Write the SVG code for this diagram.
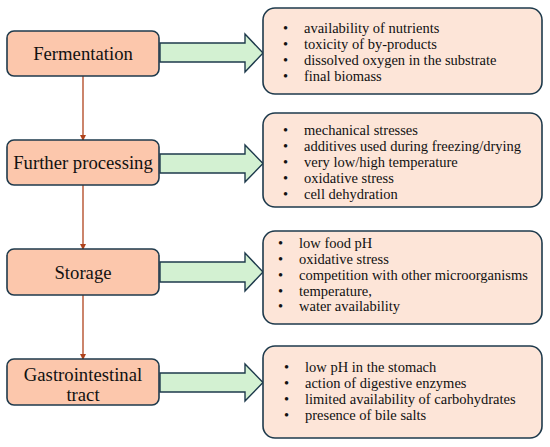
<svg xmlns="http://www.w3.org/2000/svg" width="550" height="447" viewBox="0 0 550 447">
<style>
.stage{fill:#FCC7AC;stroke:#1E3A4C;stroke-width:1.6}
.info{fill:#FDE5D8;stroke:#1E3A4C;stroke-width:1.6}
.garrow{fill:#D3F1D2;stroke:#1E3A4C;stroke-width:1.4;stroke-linejoin:miter}
.conn{stroke:#B0431C;stroke-width:1.3;fill:none}
</style>
<defs>
<marker id="ah" markerWidth="6" markerHeight="6" refX="5" refY="3" orient="auto" markerUnits="userSpaceOnUse">
<path d="M0,0 L6,3 L0,6 Z" fill="#B0431C"/>
</marker>
</defs>
<g id="connectors">
<line class="conn" x1="83" y1="76" x2="83" y2="140" marker-end="url(#ah)"/>
<line class="conn" x1="83" y1="185" x2="83" y2="249" marker-end="url(#ah)"/>
<line class="conn" x1="83" y1="295" x2="83" y2="359" marker-end="url(#ah)"/>
<path class="garrow" d="M160,43 H245 V34 L263,53 L245,72 V62 H160 Z"/>
<path class="garrow" d="M160,154 H245 V145 L263,163.5 L245,182 V173 H160 Z"/>
<path class="garrow" d="M160,262 H245 V253 L263,272 L245,291 V282 H160 Z"/>
<path class="garrow" d="M160,373 H245 V364 L263,382.5 L245,401 V392 H160 Z"/>
</g>
<g font-family="'Liberation Serif', serif" font-size="18.7" fill="#111" text-anchor="middle">
<g id="fermentation">
<rect class="stage" x="7" y="31" width="152" height="45" rx="7"/>
<text x="83" y="59.5">Fermentation</text>
</g>
<g id="further-processing">
<rect class="stage" x="7" y="140" width="152" height="45" rx="7"/>
<text x="83" y="168.5">Further processing</text>
</g>
<g id="storage">
<rect class="stage" x="7" y="249" width="152" height="46" rx="7"/>
<text x="83" y="278.5">Storage</text>
</g>
<g id="gastrointestinal">
<rect class="stage" x="7" y="359" width="152" height="46" rx="7"/>
<text x="83" y="381">Gastrointestinal</text>
<text x="83" y="400.5">tract</text>
</g>
</g>
<g font-family="'Liberation Serif', serif" font-size="14.5" fill="#111">
<g id="info-fermentation">
<rect class="info" x="263" y="8" width="279" height="86" rx="12"/>
<text x="283" y="33">•</text><text x="304" y="33">availability of nutrients</text>
<text x="283" y="49">•</text><text x="304" y="49">toxicity of by-products</text>
<text x="283" y="65">•</text><text x="304" y="65">dissolved oxygen in the substrate</text>
<text x="283" y="80.5">•</text><text x="304" y="80.5">final biomass</text>
</g>
<g id="info-processing">
<rect class="info" x="263" y="113" width="279" height="94" rx="12"/>
<text x="283" y="135">•</text><text x="304" y="135">mechanical stresses</text>
<text x="283" y="151">•</text><text x="304" y="151">additives used during freezing/drying</text>
<text x="283" y="167">•</text><text x="304" y="167">very low/high temperature</text>
<text x="283" y="183">•</text><text x="304" y="183">oxidative stress</text>
<text x="283" y="198.5">•</text><text x="304" y="198.5">cell dehydration</text>
</g>
<g id="info-storage">
<rect class="info" x="263" y="231" width="279" height="93" rx="12"/>
<text x="278" y="248">•</text><text x="299" y="248">low food pH</text>
<text x="278" y="264">•</text><text x="299" y="264">oxidative stress</text>
<text x="278" y="280">•</text><text x="299" y="280">competition with other microorganisms</text>
<text x="278" y="295.5">•</text><text x="299" y="295.5">temperature,</text>
<text x="278" y="311">•</text><text x="299" y="311">water availability</text>
</g>
<g id="info-gastro">
<rect class="info" x="263" y="346" width="279" height="92" rx="12"/>
<text x="284" y="372">•</text><text x="305" y="372">low pH in the stomach</text>
<text x="284" y="388">•</text><text x="305" y="388">action of digestive enzymes</text>
<text x="284" y="404">•</text><text x="305" y="404">limited availability of carbohydrates</text>
<text x="284" y="420">•</text><text x="305" y="420">presence of bile salts</text>
</g>
</g>
</svg>
